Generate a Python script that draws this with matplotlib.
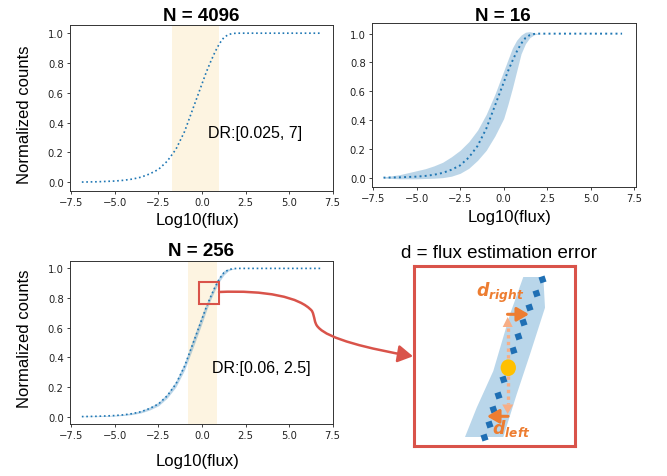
import numpy as np
import matplotlib
matplotlib.use('Agg')
import matplotlib.pyplot as plt
from matplotlib.patches import Rectangle, FancyArrowPatch, Ellipse, Polygon
from matplotlib.path import Path
from matplotlib.markers import MarkerStyle
from matplotlib.transforms import Affine2D

plt.rcParams['font.family'] = ['DejaVu Sans']
TXT = ['Liberation Sans', 'DejaVu Sans']

# ---- data
x_flux = [-6.9, -6.0, -5.0, -4.5, -4.0, -3.5, -3.0, -2.5, -2.0, -1.5, -1.0, -0.5, 0.0,
          0.25, 0.5, 0.75, 1.0, 1.25, 1.5, 1.75, 2.0, 3.0, 4.0, 5.0, 6.0, 6.8]
cdf = [0.0, 0.002, 0.007, 0.012, 0.02, 0.033, 0.055, 0.085, 0.14, 0.22, 0.34, 0.50, 0.66,
       0.74, 0.81, 0.875, 0.93, 0.97, 0.99, 0.998, 1.0, 1.0, 1.0, 1.0, 1.0, 1.0]
n16_lo = [-0.003, -0.008, -0.008, -0.006, -0.004, 0.0, 0.01, 0.03, 0.065, 0.12, 0.19, 0.29, 0.41,
          0.51, 0.62, 0.74, 0.86, 0.93, 0.972, 0.992, 0.999, 1.0, 1.0, 1.0, 1.0, 1.0]
n16_hi = [0.005, 0.02, 0.048, 0.062, 0.082, 0.107, 0.145, 0.19, 0.25, 0.33, 0.44, 0.58, 0.74,
          0.82, 0.90, 0.955, 0.99, 1.01, 1.014, 1.006, 1.0, 1.0, 1.0, 1.0, 1.0, 1.0]
n256_lo = [0.0, 0.0, 0.004, 0.008, 0.014, 0.025, 0.045, 0.073, 0.125, 0.2, 0.315, 0.47, 0.63,
           0.715, 0.79, 0.855, 0.912, 0.955, 0.982, 0.995, 1.0, 1.0, 1.0, 1.0, 1.0, 1.0]
n256_hi = [0.002, 0.004, 0.01, 0.016, 0.026, 0.041, 0.065, 0.097, 0.155, 0.24, 0.365, 0.53, 0.69,
           0.765, 0.83, 0.895, 0.948, 0.985, 0.998, 1.0, 1.0, 1.0, 1.0, 1.0, 1.0, 1.0]
dr4096 = (-1.75, 0.95)
dr256 = (-0.78, 0.84)
xticks = [-7.5, -5.0, -2.5, 0.0, 2.5, 5.0, 7.5]
yticks = [0.0, 0.2, 0.4, 0.6, 0.8, 1.0]

# inset sketch (pixel coords of the figure)
band_l_x = [523.3, 510.0, 493.3, 476.7, 465.0]
band_l_y = [278.0, 315.3, 372.0, 408.7, 438.0]
band_r_x = [543.3, 545.0, 530.0, 516.7, 503.3]
band_r_y = [278.0, 308.7, 355.3, 395.3, 438.0]
dots_x = [542.3, 535.7, 529.0, 523.3, 518.3, 513.3, 508.3, 503.3, 498.3, 493.3, 489.0, 484.0]
dots_y = [280.3, 294.3, 308.0, 323.0, 337.0, 351.3, 366.0, 380.3, 396.0, 409.7, 424.7, 438.0]

W, H = 667, 477
BLUE = '#1f77b4'
RED = '#d9534a'
ORANGE = '#ed7d31'
LORANGE = '#f7ae86'
SPAN = '#fdf4e1'


def fx(x):
    return x / W


def fy(y):
    return 1 - y / H


def box(l, t, r, b):
    return [fx(l), fy(b), (r - l) / W, (b - t) / H]


fig = plt.figure(figsize=(W / 100, H / 100), dpi=100)


def style(ax, xl, yl):
    ax.set_xlim(*xl)
    ax.set_ylim(*yl)
    ax.set_xticks(xticks)
    ax.set_yticks(yticks)
    ax.tick_params(labelsize=7.2, length=2.5, width=0.6, pad=2, colors='#222222')
    for s in ax.spines.values():
        s.set_linewidth(0.7)
        s.set_color('#333333')


# N = 4096
ax1 = fig.add_axes(box(70, 26, 333, 192))
ax1.axvspan(dr4096[0], dr4096[1], color=SPAN, lw=0)
ax1.plot(x_flux, cdf, ':', color=BLUE, lw=1.2)
ax1.text(0.35, 0.335, 'DR:[0.025, 7]', fontsize=11.5, family=TXT, va='center')
style(ax1, (-7.58, 7.52), (-0.06, 1.055))

# N = 16
ax2 = fig.add_axes(box(372, 24, 636, 188))
ax2.fill_between(x_flux, n16_lo, n16_hi, color=BLUE, alpha=0.3, lw=0)
ax2.plot(x_flux, cdf, ':', color=BLUE, lw=1.4)
style(ax2, (-7.56, 7.6), (-0.065, 1.074))

# N = 256
ax3 = fig.add_axes(box(70, 262, 333, 425))
ax3.axvspan(dr256[0], dr256[1], color=SPAN, lw=0)
ax3.fill_between(x_flux, n256_lo, n256_hi, color=BLUE, alpha=0.3, lw=0)
ax3.plot(x_flux, cdf, ':', color=BLUE, lw=1.2)
ax3.text(0.59, 0.333, 'DR:[0.06, 2.5]', fontsize=11.5, family=TXT, va='center')
ax3.add_patch(Rectangle((-0.15, 0.757), 1.12, 0.149, fill=False, ec=RED, lw=1.5, clip_on=False, zorder=5))
style(ax3, (-7.58, 7.52), (-0.05, 1.05))

# titles and labels
fig.text(fx(201.5), fy(20.7), 'N = 4096', fontsize=13.5, weight='bold', family=TXT, ha='center', va='baseline')
fig.text(fx(503), fy(20.7), 'N = 16', fontsize=13.5, weight='bold', family=TXT, ha='center', va='baseline')
fig.text(fx(201.5), fy(256), 'N = 256', fontsize=13.5, weight='bold', family=TXT, ha='center', va='baseline')
fig.text(fx(499), fy(258.3), 'd = flux estimation error', fontsize=13.5, family=TXT, ha='center', va='baseline')
for xc, yc in [(198, 220), (510, 218), (198, 461.7)]:
    fig.text(fx(xc), fy(yc), 'Log10(flux)', fontsize=12, family=TXT, ha='center', va='center')
for yc in [115, 339]:
    fig.text(fx(25), fy(yc), 'Normalized counts', fontsize=12, family=TXT, rotation=90, ha='center', va='center')

# inset sketch
ax4 = fig.add_axes(box(414, 267, 575, 447))
ax4.set_xlim(414, 575)
ax4.set_ylim(447, 267)
ax4.set_xticks([])
ax4.set_yticks([])
for s in ax4.spines.values():
    s.set_color(RED)
    s.set_linewidth(2.2)
ax4.fill(np.concatenate([band_l_x, band_r_x[::-1]]), np.concatenate([band_l_y, band_r_y[::-1]]),
         color='#b9d6ea', lw=0)
sq = MarkerStyle('s', transform=Affine2D().rotate_deg(20))
ax4.plot(dots_x, dots_y, linestyle='None', marker=sq, ms=4.3, color='#1f6fb4', mec='none')
# light orange dotted arrows
ax4.plot([507.7, 507.7], [329, 361], color=LORANGE, lw=2.4, linestyle=(0, (1, 1)))
ax4.plot([507.7, 507.7], [377, 405], color=LORANGE, lw=2.4, linestyle=(0, (1, 1)))
ax4.add_patch(Polygon([[507.7, 318], [502.7, 328], [512.7, 328]], color=LORANGE, lw=0))
ax4.add_patch(Polygon([[507.7, 415], [502.2, 405.5], [513.2, 405.5]], color=LORANGE, lw=0))
ax4.add_patch(Ellipse((508.3, 368.7), 15.3, 16.7, color='#ffc000', lw=0, zorder=4))
arr = dict(arrowstyle='-|>,head_length=0.6,head_width=0.35', lw=2.2, color=ORANGE,
           mutation_scale=12, shrinkA=0, shrinkB=0)
ax4.annotate('', xy=(529, 315.3), xytext=(507.5, 315.3), arrowprops=arr)
ax4.annotate('', xy=(487, 417.3), xytext=(508, 417.3), arrowprops=arr)
ax4.text(500, 293, r'$\mathbfit{d}_{\mathbfit{right}}$', color=ORANGE, fontsize=12.5, ha='center', va='center')
ax4.text(511, 429, r'$\mathbfit{d}_{\mathbfit{left}}$', color=ORANGE, fontsize=12.5, ha='center', va='center')

# connector arrow
pts = [(219, 293), (265, 291), (300, 298), (312, 312),
       (315, 318), (314, 324), (318, 328),
       (328, 340), (370, 350), (413, 357.3)]
verts = [(fx(a), fy(b)) for a, b in pts]
codes = [Path.MOVETO] + [Path.CURVE4] * 9
con = FancyArrowPatch(path=Path(verts, codes), arrowstyle='-|>,head_length=0.6,head_width=0.35',
                      mutation_scale=15, lw=1.8, color=RED, transform=fig.transFigure)
fig.add_artist(con)

fig.savefig('out.png', dpi=100)
